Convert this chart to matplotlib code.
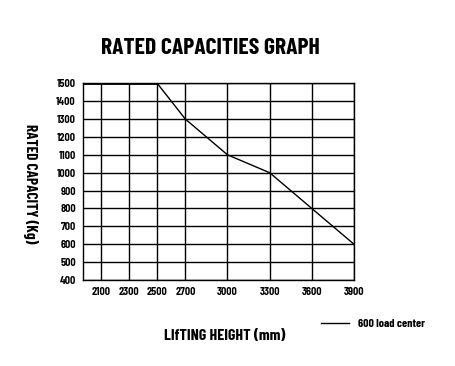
from matplotlib import pyplot as plt

# lifting height (mm) vs rated capacity (kg)
heights = [1970, 2500, 2700, 3000, 3300, 3600, 3900]
capacity = [1500, 1500, 1300, 1100, 1000, 800, 600]
xticks = [2100, 2300, 2500, 2700, 3000, 3300, 3600, 3900]
yticks = list(range(400, 1501, 100))

cond = ['Barlow Condensed', 'DejaVu Sans']
semi = ['Barlow Semi Condensed', 'DejaVu Sans']

fig = plt.figure(figsize=(4.55, 3.66), dpi=100)
ax = fig.add_axes([0.1818, 0.235, 0.778 - 0.1818, 0.7724 - 0.235])

ax.plot(heights, capacity, c='k', lw=1.0, label='600 load center')
ax.plot(heights[:2], capacity[:2], c='k', lw=2.0)
ax.set_xlim(1970, 3900)
ax.set_ylim(400, 1500)
ax.set_xticks(xticks)
ax.set_yticks(yticks)
ax.tick_params(length=0, pad=5)
for lbl in ax.get_xticklabels() + ax.get_yticklabels():
    lbl.set_family(semi)
    lbl.set_fontweight('bold')
    lbl.set_fontsize(7.5)
ax.grid(True, c='k', lw=1.0)
for s in ax.spines.values():
    s.set_linewidth(1.0)

fig.text(0.462, 0.868, 'RATED CAPACITIES GRAPH', ha='center', va='center',
         fontsize=17, fontweight='bold', family=cond)
fig.text(0.068, 0.497, 'RATED CAPACITY (Kg)', rotation=-90, ha='center',
         va='center', fontsize=11, fontweight='bold', family=cond)
fig.text(0.494, 0.082, 'LIfTING HEIGHT (mm)', ha='center', va='center',
         fontsize=11.5, fontweight='bold', family=cond)

ax.legend(loc='center left', bbox_to_anchor=(0.683, 0.116),
          bbox_transform=fig.transFigure, frameon=False, handlelength=2.3,
          handletextpad=0.8,
          prop={'size': 8.5, 'weight': 'bold', 'family': cond})

plt.savefig('out.png', dpi=100)
